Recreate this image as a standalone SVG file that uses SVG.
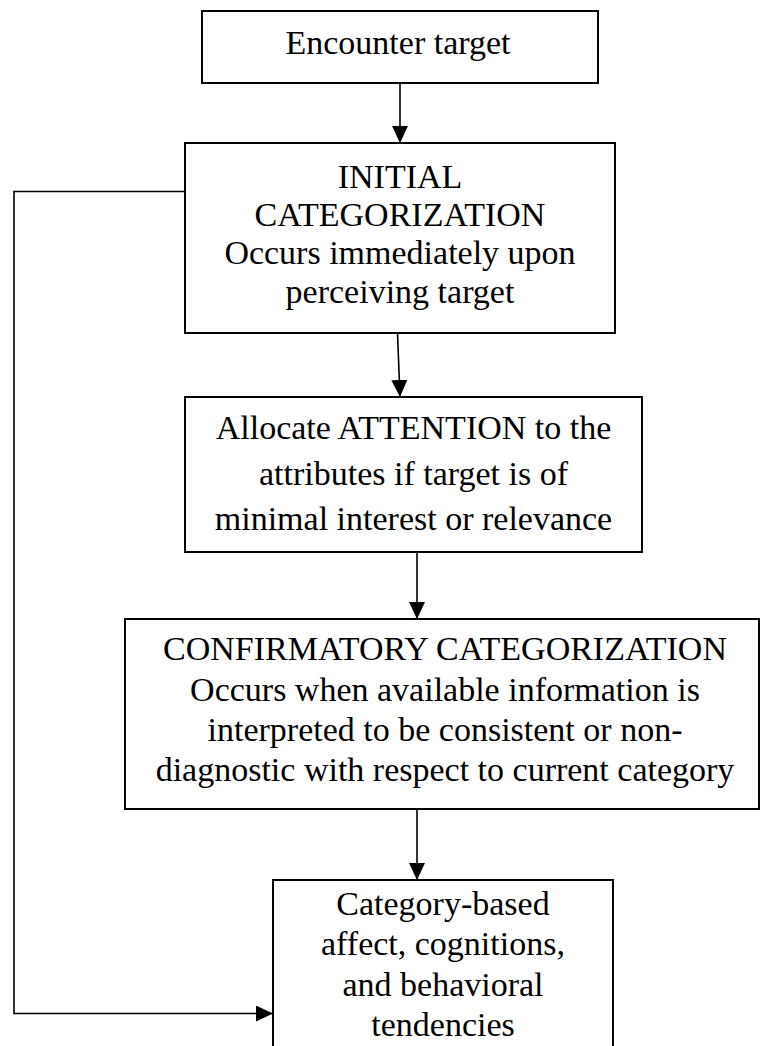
<svg xmlns="http://www.w3.org/2000/svg" width="762" height="1046" viewBox="0 0 762 1046">
<style>
.box{fill:#fff;stroke:#000;stroke-width:2}
.t{font-family:"Liberation Serif","Times New Roman","DejaVu Serif",serif;font-size:34px;fill:#000;text-anchor:middle}
.c{fill:none;stroke:#000;stroke-width:1.6}
</style>
<defs>
<marker id="ah" viewBox="0 0 17 16" refX="17" refY="8" markerWidth="17" markerHeight="16" markerUnits="userSpaceOnUse" orient="auto">
<path d="M0,0 L17,8 L0,16 Z" fill="#000"/>
</marker>
</defs>
<rect width="762" height="1046" fill="#fff"/>
<g id="connectors">
<line class="c" x1="400" y1="83" x2="400" y2="143" marker-end="url(#ah)"/>
<line class="c" x1="397.5" y1="333" x2="400" y2="397" marker-end="url(#ah)"/>
<line class="c" x1="417" y1="552" x2="417" y2="619" marker-end="url(#ah)"/>
<line class="c" x1="417" y1="809" x2="417" y2="880" marker-end="url(#ah)"/>
<polyline class="c" points="185,191.5 14,191.5 14,1013.5 273,1013.5" marker-end="url(#ah)"/>
</g>
<g id="encounter">
<rect class="box" x="202" y="11" width="396" height="72"/>
<text class="t" x="398" y="54">Encounter target</text>
</g>
<g id="initial">
<rect class="box" x="185" y="143" width="430" height="190"/>
<text class="t" x="400" y="188">INITIAL</text>
<text class="t" x="400" y="226">CATEGORIZATION</text>
<text class="t" x="400" y="264">Occurs immediately upon</text>
<text class="t" x="400" y="303">perceiving target</text>
</g>
<g id="attention">
<rect class="box" x="185" y="397" width="457" height="155"/>
<text class="t" x="413.5" y="439">Allocate ATTENTION to the</text>
<text class="t" x="413.5" y="485">attributes if target is of</text>
<text class="t" x="413.5" y="530">minimal interest or relevance</text>
</g>
<g id="confirmatory">
<rect class="box" x="125" y="619" width="634" height="190"/>
<text class="t" x="445" y="660">CONFIRMATORY CATEGORIZATION</text>
<text class="t" x="445" y="701">Occurs when available information is</text>
<text class="t" x="445" y="741">interpreted to be consistent or non-</text>
<text class="t" x="445" y="781">diagnostic with respect to current category</text>
</g>
<g id="outcome">
<rect class="box" x="273" y="880" width="340" height="180"/>
<text class="t" x="443" y="915">Category-based</text>
<text class="t" x="443" y="955">affect, cognitions,</text>
<text class="t" x="443" y="996">and behavioral</text>
<text class="t" x="443" y="1036">tendencies</text>
</g>
</svg>
